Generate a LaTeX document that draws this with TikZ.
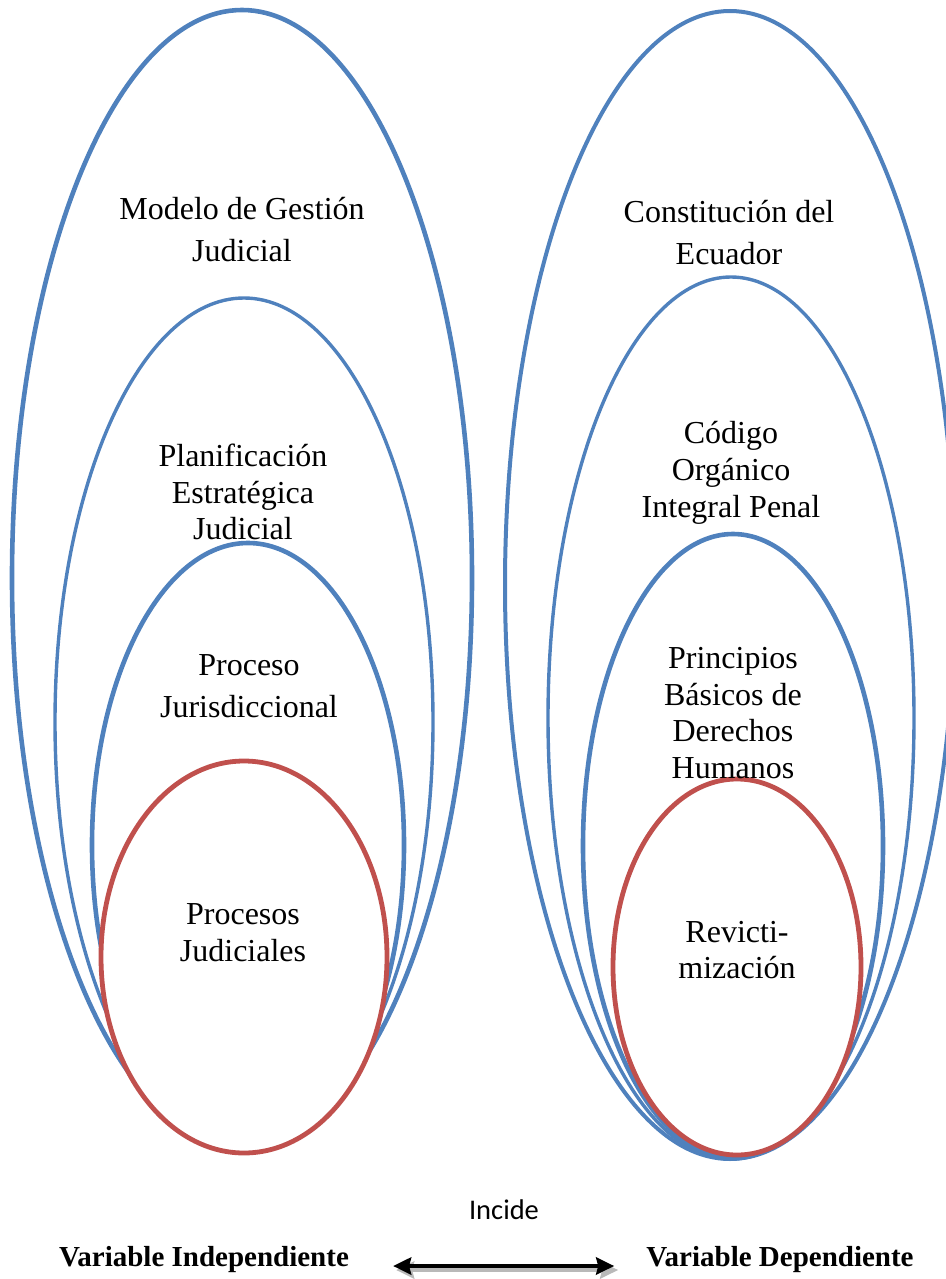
\documentclass[tikz,border=0pt]{standalone}
\usepackage{fontspec}
\setmainfont{Liberation Serif}
\newfontfamily\incidefont{Carlito}
\usetikzlibrary{arrows.meta}
\usetikzlibrary{positioning}
\definecolor{setblue}{RGB}{79,129,189}
\definecolor{setred}{RGB}{192,80,77}
\tikzset{>=latex}
\tikzset{
  blueset/.style={draw=setblue, line width=#1},
  blueset/.default=4pt,
  redset/.style={draw=setred, fill=white, line width=4.8pt},
  setlabel/.style={align=center, inner sep=0pt, font=\fontsize{32}{36.8}\selectfont},
  widelabel/.style={setlabel, font=\fontsize{32}{42}\selectfont},
  varlabel/.style={inner sep=0pt, font=\bfseries\fontsize{29}{34}\selectfont},
  incarrow/.style={{Stealth[length=18pt,width=17pt,inset=2pt]}-{Stealth[length=18pt,width=17pt,inset=2pt]}, line width=4pt}
}

\begin{document}
\begin{tikzpicture}[x=1pt, y=-1pt]
    \useasboundingbox (0,0) rectangle (945,1279);
    % Draw the nested sets of the independent variable.
    \draw[blueset=4.6pt] (242,578) ellipse [x radius=230pt, y radius=568pt];
    \draw[blueset=3.4pt] (244,722) ellipse [x radius=189pt, y radius=424pt];
    \draw[blueset=4.6pt] (248,845) ellipse [x radius=156pt, y radius=302pt];
    \draw[redset] (244,957) ellipse [x radius=143pt, y radius=196pt];
    % Draw the nested sets of the dependent variable.
    \draw[blueset] (730,585) ellipse [x radius=225pt, y radius=574pt];
    \draw[blueset=3.4pt] (731,718) ellipse [x radius=183pt, y radius=441pt];
    \draw[blueset=4.6pt] (733,846) ellipse [x radius=150pt, y radius=312pt];
    \draw[redset] (737,967) ellipse [x radius=124pt, y radius=188pt];

    % Labels of the independent sets.
    \node[widelabel] (modelo) at (242,230) {Modelo de Gestión\\Judicial};
    \node[setlabel] (planif) at (243,492) {Planificación\\Estratégica\\Judicial};
    \node[widelabel] (proceso) at (249,686) {Proceso\\Jurisdiccional};
    \node[setlabel] (procesos) at (243,933) {Procesos\\Judiciales};
    % Labels of the dependent sets.
    \node[widelabel] (constit) at (729,233) {Constitución del\\Ecuador};
    \node[setlabel] (codigo) at (731,473) {Código\\Orgánico\\Integral Penal};
    \node[setlabel] (principios) at (733,713) {Principios\\Básicos de\\Derechos\\Humanos};
    \node[setlabel] (revicti) at (737,950) {Revicti-\\mización};

    % Draw the two variables and the relation between them.
    \node[varlabel] (indep) at (204,1260) {Variable Independiente};
    \node[varlabel] (dep) at (780,1260) {Variable Dependiente};
    \node[inner sep=0pt, font=\incidefont\fontsize{28.5}{34}\selectfont] (incide) at (504,1210) {Incide};
    \draw[incarrow, draw=gray!55] ([xshift=47pt,yshift=-10pt]indep.east) -- ([xshift=-28pt,yshift=-10pt]dep.west);
    \draw[incarrow] ([xshift=44pt,yshift=-6pt]indep.east) -- ([xshift=-32pt,yshift=-6pt]dep.west);
\end{tikzpicture}
\end{document}
